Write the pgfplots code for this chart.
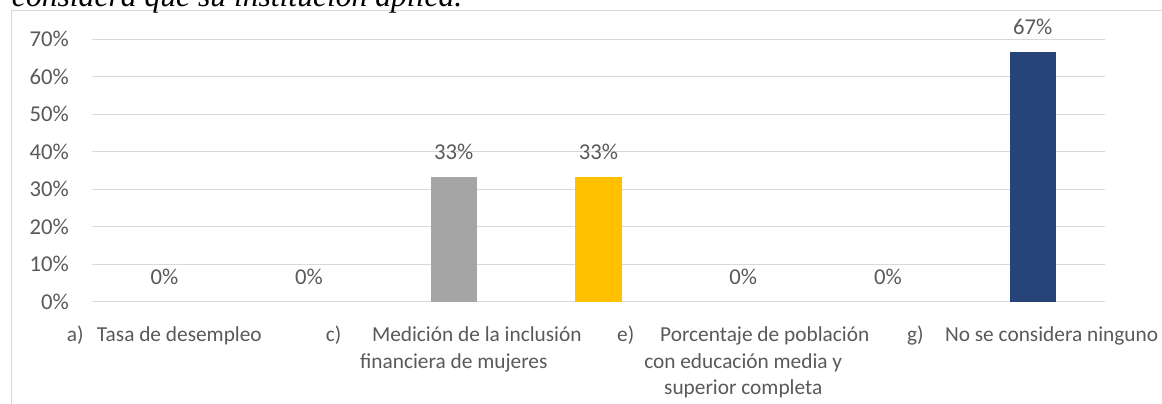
\documentclass[border=0pt]{standalone}
\usepackage{pgfplots}
\pgfplotsset{compat=1.18}
\usepackage{fontspec}
\setmainfont{Carlito}
\newfontfamily\titlefont{Liberation Serif}
\definecolor{txt}{HTML}{595959}
\definecolor{gridc}{HTML}{D9D9D9}
\definecolor{barGray}{HTML}{A5A5A5}
\definecolor{barGold}{HTML}{FFC000}
\definecolor{barBlue}{HTML}{264478}

\begin{document}
\begin{tikzpicture}
\useasboundingbox (-69bp,-76.7bp) rectangle (802.5bp,226.3bp);
% frame of the chart area and the cut-off caption above it
\draw[gridc, line width=0.8bp] (-60.2bp,-90bp) -- (-60.2bp,218.3bp) -- (820bp,218.3bp);
\node[anchor=base west, inner sep=0pt, font=\titlefont\itshape\fontsize{23.7bp}{28bp}\selectfont]
  at (-60.2bp,221.5bp) {considera que su institución aplica.};
\begin{axis}[
  at={(0,0)}, anchor=south west, scale only axis,
  width=759.75bp, height=196.9bp,
  xmin=-0.5, xmax=6.5, ymin=0, ymax=70,
  /pgf/number format/assume math mode=true,
  axis line style={draw=none}, major tick length=0pt,
  ymajorgrids, grid style={gridc, line width=0.8bp},
  ytick={0,10,...,70},
  yticklabel={\pgfmathprintnumber{\tick}\%},
  yticklabel style={font=\fontsize{17bp}{20bp}\selectfont, text=txt, inner sep=0pt, anchor=east, xshift=-17.25bp},
  xtick={0,...,6},
  xticklabels={
    {\strut a)\hspace{10bp}Tasa de desempleo},
    {},
    {\strut c)\hspace{23bp}Medición de la inclusión\\financiera de mujeres},
    {},
    {\strut e)\hspace{19.5bp}Porcentaje de población\\con educación media y\\superior completa},
    {},
    {\strut g)\hspace{16bp}No se considera ninguno}},
  xticklabel style={font=\fontsize{16bp}{20bp}\selectfont, text=txt, align=center, inner sep=0pt, anchor=north, yshift=-15.5bp},
  clip=false,
]
\addplot[ybar, bar width=34.5bp, fill=barGray, draw=none] coordinates {(2,33.33)};
\addplot[ybar, bar width=34.5bp, fill=barGold, draw=none] coordinates {(3,33.33)};
\addplot[ybar, bar width=34.5bp, fill=barBlue, draw=none] coordinates {(6,66.67)};
% data labels for all seven categories
\addplot[only marks, mark=none,
  nodes near coords={\pgfmathprintnumber[fixed,precision=0,assume math mode=true]{\pgfplotspointmeta}\%},
  nodes near coords style={anchor=center, yshift=18.4bp, font=\fontsize{17bp}{20bp}\selectfont, text=txt}]
  coordinates {(0,0) (1,0) (2,33.33) (3,33.33) (4,0) (5,0) (6,66.67)};
\end{axis}
\end{tikzpicture}
\end{document}
